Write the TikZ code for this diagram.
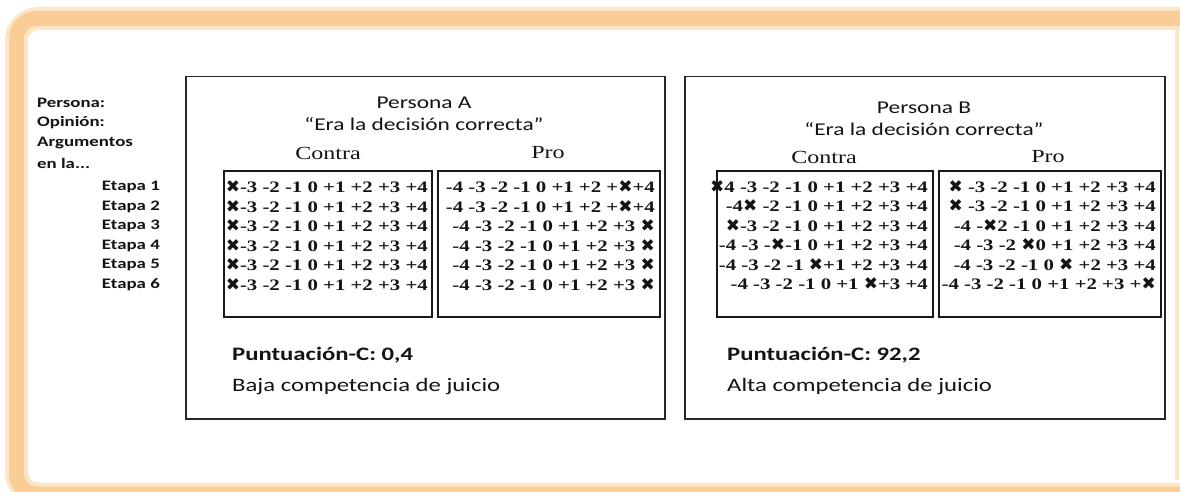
\documentclass[tikz,border=0pt]{standalone}
\usepackage{fontspec}
\newfontfamily\calfont[FakeStretch=1.3]{Carlito}
\newfontfamily\serfont[FakeStretch=1.3]{Liberation Serif}
\newfontfamily\xmfont{DejaVu Sans}
\definecolor{framec}{RGB}{250,205,150}
\definecolor{glowc}{RGB}{253,230,200}
\definecolor{ink}{RGB}{20,20,20}
\newcommand\xm{{\xmfont\fontsize{17}{17}\selectfont ✖}}
\tikzset{
  rowtxt/.style={anchor=east,inner sep=0pt,text=ink,font=\serfont\bfseries\fontsize{16}{18}\selectfont},
  colhead/.style={inner sep=0pt,text=ink,font=\serfont\fontsize{18.5}{20}\selectfont},
  title/.style={inner sep=0pt,text=ink,font=\calfont\fontsize{18}{20}\selectfont},
  leftlab/.style={anchor=west,inner sep=0pt,text=ink,font=\calfont\bfseries\fontsize{14.5}{16}\selectfont},
  etapa/.style={anchor=east,inner sep=0pt,text=ink,font=\calfont\bfseries\fontsize{14.5}{16}\selectfont},
  score/.style={anchor=west,inner sep=0pt,text=ink,font=\calfont\bfseries\fontsize{19}{22}\selectfont},
  verdict/.style={anchor=west,inner sep=0pt,text=ink,font=\calfont\fontsize{19}{22}\selectfont},
  outerbox/.style={draw=black!85,line width=1.5pt},
  innerbox/.style={draw=black!90,line width=2.2pt}
}
\begin{document}
\begin{tikzpicture}[x=1pt,y=-1pt]
\useasboundingbox (0,0) rectangle (1180,492);
\fill[white] (0,0) rectangle (1180,492);
% orange frame
\begin{scope}
\clip (0,0) rectangle (1180,492);
\draw[glowc,line width=23,rounded corners=22] (16.5,18.5) rectangle (1220,494);
\draw[framec,line width=15,rounded corners=20] (16.5,18.5) rectangle (1220,494);
\draw[glowc,line width=4] (1177,30) -- (1177,480);
\end{scope}
% outer boxes
\node[outerbox,inner sep=0pt,minimum width=479,minimum height=342,anchor=north west] (boxA) at (185,76) {};
\node[outerbox,inner sep=0pt,minimum width=480,minimum height=342,anchor=north west] (boxB) at (684,76) {};
% inner boxes
\node[innerbox,inner sep=0pt,minimum width=208,minimum height=146,anchor=north west] (aCon) at (223,170) {};
\node[innerbox,inner sep=0pt,minimum width=222,minimum height=146,anchor=north west] (aPro) at (437,170) {};
\node[innerbox,inner sep=0pt,minimum width=216,minimum height=146,anchor=north west] (bCon) at (716,170) {};
\node[innerbox,inner sep=0pt,minimum width=222,minimum height=146,anchor=north west] (bPro) at (938,170) {};
% left labels
\node[leftlab] (lp) at (37,103) {Persona:};
\node[leftlab] (lo) at (37,123) {Opinión:};
\node[leftlab] (la) at (37,143) {Argumentos};
\node[leftlab] (le) at (37,163) {en la...};
\node[etapa] (e1) at (160,187) {Etapa 1};
\node[etapa] (e2) at (160,207) {Etapa 2};
\node[etapa] (e3) at (160,226) {Etapa 3};
\node[etapa] (e4) at (160,246) {Etapa 4};
\node[etapa] (e5) at (160,265) {Etapa 5};
\node[etapa] (e6) at (160,285) {Etapa 6};
% titles
\node[title] (tA) at (424,103) {Persona A};
\node[title] (qA) at (424,124) {“Era la decisión correcta”};
\node[title] (tB) at (924,108) {Persona B};
\node[title] (qB) at (924,129) {“Era la decisión correcta”};
\node[colhead] (hAc) at (328,153) {Contra};
\node[colhead] (hAp) at (548,153) {Pro};
\node[colhead] (hBc) at (824,157) {Contra};
\node[colhead] (hBp) at (1048,157) {Pro};
% rows A contra
\node[rowtxt] (ac1) at (428,187) {\xm-3 -2 -1 0 +1 +2 +3 +4};
\node[rowtxt] (ac2) at (428,207) {\xm-3 -2 -1 0 +1 +2 +3 +4};
\node[rowtxt] (ac3) at (428,226) {\xm-3 -2 -1 0 +1 +2 +3 +4};
\node[rowtxt] (ac4) at (428,246) {\xm-3 -2 -1 0 +1 +2 +3 +4};
\node[rowtxt] (ac5) at (428,265) {\xm-3 -2 -1 0 +1 +2 +3 +4};
\node[rowtxt] (ac6) at (428,285) {\xm-3 -2 -1 0 +1 +2 +3 +4};
% rows A pro
\node[rowtxt] (ap1) at (655,187) {-4 -3 -2 -1 0 +1 +2 +\xm+4};
\node[rowtxt] (ap2) at (655,207) {-4 -3 -2 -1 0 +1 +2 +\xm+4};
\node[rowtxt] (ap3) at (655,226) {-4 -3 -2 -1 0 +1 +2 +3 \xm};
\node[rowtxt] (ap4) at (655,246) {-4 -3 -2 -1 0 +1 +2 +3 \xm};
\node[rowtxt] (ap5) at (655,265) {-4 -3 -2 -1 0 +1 +2 +3 \xm};
\node[rowtxt] (ap6) at (655,285) {-4 -3 -2 -1 0 +1 +2 +3 \xm};
% rows B contra
\node[rowtxt] (bc1) at (928,187) {\xm4 -3 -2 -1 0 +1 +2 +3 +4};
\node[rowtxt] (bc2) at (928,206) {-4\xm{} -2 -1 0 +1 +2 +3 +4};
\node[rowtxt] (bc3) at (928,226) {\xm-3 -2 -1 0 +1 +2 +3 +4};
\node[rowtxt] (bc4) at (928,245) {-4 -3 -\xm-1 0 +1 +2 +3 +4};
\node[rowtxt] (bc5) at (928,265) {-4 -3 -2 -1 \xm+1 +2 +3 +4};
\node[rowtxt] (bc6) at (928,284) {-4 -3 -2 -1 0 +1 \xm+3 +4};
% rows B pro
\node[rowtxt] (bp1) at (1156,187) {\xm{} -3 -2 -1 0 +1 +2 +3 +4};
\node[rowtxt] (bp2) at (1156,206) {\xm{} -3 -2 -1 0 +1 +2 +3 +4};
\node[rowtxt] (bp3) at (1156,226) {-4 -\xm2 -1 0 +1 +2 +3 +4};
\node[rowtxt] (bp4) at (1156,245) {-4 -3 -2 \xm0 +1 +2 +3 +4};
\node[rowtxt] (bp5) at (1156,265) {-4 -3 -2 -1 0 \xm{} +2 +3 +4};
\node[rowtxt] (bp6) at (1156,284) {-4 -3 -2 -1 0 +1 +2 +3 +\xm};
% scores
\node[score] (sA) at (232,355) {Puntuación-C: 0,4};
\node[verdict] (vA) at (232,387) {Baja competencia de juicio};
\node[score] (sB) at (727,355) {Puntuación-C: 92,2};
\node[verdict] (vB) at (727,387) {Alta competencia de juicio};
\end{tikzpicture}
\end{document}
